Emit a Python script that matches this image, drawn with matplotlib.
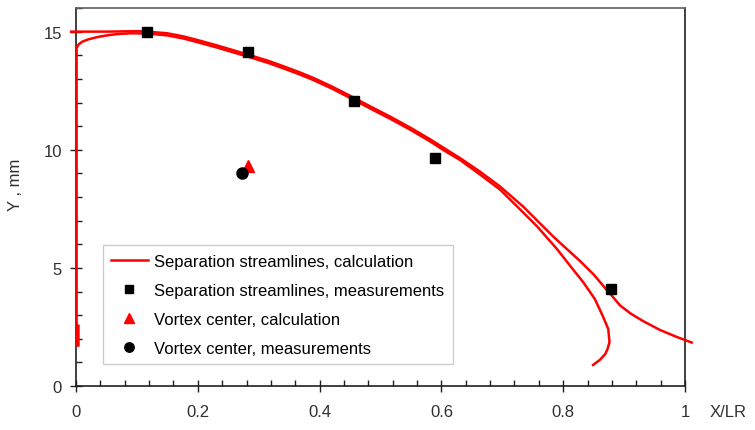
import matplotlib
matplotlib.use("Agg")
import matplotlib.pyplot as plt
from matplotlib.ticker import MultipleLocator

plt.rcParams['font.family'] = ['Liberation Sans', 'DejaVu Sans']

# separation streamline starting from the inlet edge (outer branch)
x_outer = [-0.008, 0.05, 0.10, 0.117, 0.15, 0.176, 0.2, 0.231, 0.26, 0.286,
           0.315, 0.340, 0.365, 0.389, 0.42, 0.455, 0.485, 0.516, 0.55, 0.581,
           0.605, 0.631, 0.663, 0.696, 0.734, 0.783, 0.828, 0.850, 0.872,
           0.882, 0.893, 0.910, 0.931, 0.959, 0.987, 1.011]
y_outer = [15.0, 15.0, 15.02, 15.0, 14.93, 14.8, 14.64, 14.42, 14.2, 14.0,
           13.77, 13.54, 13.3, 13.05, 12.68, 12.22, 11.81, 11.40, 10.92, 10.45,
           10.06, 9.64, 9.08, 8.45, 7.60, 6.34, 5.28, 4.72, 4.05,
           3.76, 3.42, 3.08, 2.75, 2.37, 2.07, 1.84]

# streamline along the wall (inner branch)
x_inner = [0.004, 0.004, 0.001, 0.001, 0.004, 0.010, 0.02, 0.035, 0.053, 0.07,
           0.089, 0.117, 0.15, 0.176, 0.2, 0.231, 0.26, 0.286, 0.315, 0.340,
           0.365, 0.389, 0.42, 0.455, 0.485, 0.516, 0.55, 0.581, 0.605, 0.631,
           0.663, 0.696, 0.729, 0.757, 0.790, 0.811, 0.833, 0.852, 0.865,
           0.874, 0.876, 0.873, 0.869, 0.860, 0.849]
y_inner = [2.55, 1.7, 1.75, 14.3, 14.45, 14.57, 14.67, 14.77, 14.85, 14.9,
           14.93, 14.92, 14.84, 14.71, 14.55, 14.33, 14.11, 13.91, 13.68, 13.45,
           13.21, 12.96, 12.59, 12.13, 11.72, 11.31, 10.83, 10.36, 9.96, 9.56,
           8.96, 8.32, 7.48, 6.76, 5.79, 5.1, 4.39, 3.68, 2.96,
           2.41, 1.86, 1.58, 1.35, 1.1, 0.89]

# measured separation streamline points
x_meas = [0.117, 0.282, 0.456, 0.589, 0.878]
y_meas = [15.0, 14.15, 12.08, 9.67, 4.1]

# vortex center
x_vort_calc = [0.282]
y_vort_calc = [9.3]
x_vort_meas = [0.272]
y_vort_meas = [9.0]

fig = plt.figure(figsize=(7.55, 4.31), dpi=100)
ax = fig.add_axes([76 / 755, 44 / 431, 609 / 755, 378 / 431])

ax.plot(x_outer, y_outer, color='#ff0000', lw=1.8, clip_on=False, zorder=3,
        solid_joinstyle='round', label='Separation streamlines, calculation')
ax.plot(x_inner, y_inner, color='#ff0000', lw=1.8, clip_on=False, zorder=3,
        solid_joinstyle='round')
ax.plot(x_meas, y_meas, 's', color='black', ms=7, ls='none', zorder=4,
        label='Separation streamlines, measurements')
ax.plot(x_vort_calc, y_vort_calc, '^', color='#ff0000', ms=8, ls='none', zorder=4,
        label='Vortex center, calculation')
ax.plot(x_vort_meas, y_vort_meas, 'o', color='black', ms=8, ls='none', zorder=4,
        label='Vortex center, measurements')

ax.set_xlim(0, 1)
ax.set_ylim(0, 16)
ax.xaxis.set_minor_locator(MultipleLocator(0.04))
ax.yaxis.set_major_locator(MultipleLocator(5))
ax.yaxis.set_minor_locator(MultipleLocator(1))
ax.set_xticks([0, 0.2, 0.4, 0.6, 0.8, 1.0])
ax.set_xticklabels(['0', '0.2', '0.4', '0.6', '0.8', '1'])

ax.tick_params(which='major', direction='inout', length=8, width=1, color='#202020',
               labelsize=12, labelcolor='#303030')
ax.tick_params(which='minor', direction='in', length=4, width=1, color='#202020')
ax.tick_params(axis='x', which='major', pad=9)
ax.tick_params(axis='y', which='major', pad=6)

for side in ['left', 'bottom', 'right']:
    ax.spines[side].set_color('#202020')
    ax.spines[side].set_linewidth(1.2)
ax.spines['top'].set_color('#606060')
ax.spines['top'].set_linewidth(1.2)

fig.text(15 / 755, 1 - 185 / 431, 'Y , mm', rotation=90, ha='center', va='center',
         fontsize=12, color='#303030')
fig.text(710 / 755, 1 - 413 / 431, 'X/LR', ha='left', va='center',
         fontsize=12, color='#303030')

leg = ax.legend(loc='lower left', bbox_to_anchor=(0.044, 0.058), borderaxespad=0,
                fontsize=12, frameon=True, fancybox=False, handlelength=2.2,
                handletextpad=0.4, labelspacing=0.84, borderpad=0.5,
                markerscale=0.85)
leg.get_frame().set_edgecolor('#c0c0c0')
leg.get_frame().set_linewidth(1)

fig.savefig('out.png', dpi=100)
